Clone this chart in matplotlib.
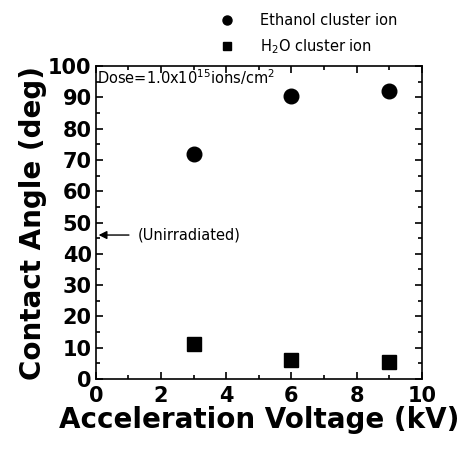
import matplotlib
matplotlib.use("Agg")
import matplotlib.pyplot as plt
from matplotlib.ticker import MultipleLocator
from matplotlib.lines import Line2D

voltage = [3, 6, 9]
ethanol = [72, 90.5, 92]
h2o = [11, 6, 5.3]
unirradiated = 46

fig = plt.figure(figsize=(4.63, 4.5), dpi=100)
ax = fig.add_axes([0.207, 0.158, 0.704, 0.695])

ax.plot(voltage, ethanol, 'o', color='black', markersize=10.5, label='Ethanol cluster ion')
ax.plot(voltage, h2o, 's', color='black', markersize=9.5, label='H$_2$O cluster ion')

ax.set_xlim(0, 10)
ax.set_ylim(0, 100)
ax.xaxis.set_major_locator(MultipleLocator(2))
ax.xaxis.set_minor_locator(MultipleLocator(1))
ax.yaxis.set_major_locator(MultipleLocator(10))
ax.yaxis.set_minor_locator(MultipleLocator(5))
ax.tick_params(which='both', direction='in', top=True, right=True, width=1.2)
ax.tick_params(which='major', length=5, labelsize=15)
ax.tick_params(axis='x', which='major', pad=5)
ax.tick_params(axis='y', which='major', pad=3)
ax.tick_params(which='minor', length=3)
for lab in ax.get_xticklabels() + ax.get_yticklabels():
    lab.set_fontweight('bold')
for s in ax.spines.values():
    s.set_linewidth(1.2)

ax.set_xlabel('Acceleration Voltage (kV)', fontsize=20, fontweight='bold', labelpad=0)
ax.set_ylabel('Contact Angle (deg)', fontsize=20, fontweight='bold', labelpad=1)

ax.text(0.05, 96.5, 'Dose=1.0x10$^{15}$ions/cm$^2$', fontsize=10.5, va='center', ha='left')

ax.annotate('', xy=(0, unirradiated), xytext=(1.1, unirradiated),
            arrowprops=dict(arrowstyle='-|>', color='black', lw=1, mutation_scale=12))
ax.text(1.3, unirradiated, '(Unirradiated)', fontsize=10.5, va='center', ha='left')

handles = [Line2D([], [], marker='o', ls='', color='black', markersize=6.5),
           Line2D([], [], marker='s', ls='', color='black', markersize=6)]
fig.legend(handles, ['Ethanol cluster ion', 'H$_2$O cluster ion'],
           loc='upper left', bbox_to_anchor=(0.43, 1.0), frameon=False,
           fontsize=10.5, handletextpad=1.3, labelspacing=0.6, borderpad=0.4)

fig.savefig('out.png', dpi=100)
